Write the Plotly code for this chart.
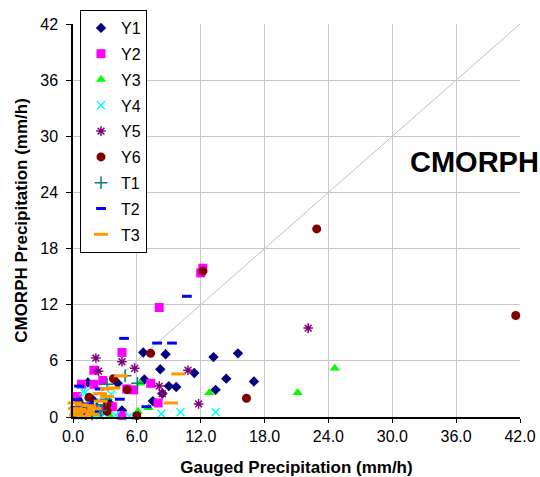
import plotly.graph_objects as go

# ---- data ----
y1_x = [0.2, 0.5, 0.9, 1.4, 1.8, 2.6, 3.4, 4.2, 4.6, 6.6, 6.7, 7.5, 8.2, 8.4, 8.7, 9.0, 9.7, 11.4, 13.2, 13.4, 14.4, 15.5, 17.0, 1.2, 2.2]
y1_y = [0.3, 0.6, 1.1, 3.7, 1.9, 0.4, 1.5, 3.6, 0.7, 6.9, 4.0, 1.7, 5.1, 2.5, 6.7, 3.3, 3.2, 4.7, 6.4, 2.9, 4.1, 6.8, 3.8, 0.2, 1.0]

y2_x = [12.2, 12.0, 8.1, 4.6, 1.96, 2.8, 1.96, 0.8, 5.05, 5.7, 7.3, 8.0, 3.7, 4.6, 2.5, 0.4, 1.4, 0.2]
y2_y = [15.9, 15.4, 11.7, 6.9, 5.0, 3.9, 3.5, 3.5, 3.0, 2.9, 3.6, 1.5, 1.1, 0.15, 0.8, 2.2, 0.4, 0.5]

y3_x = [6.3, 6.1, 7.1, 3.5, 12.8, 21.1, 24.6, 1.0, 2.0]
y3_y = [3.6, 0.6, 1.0, 0.1, 2.6, 2.6, 5.2, 0.1, 0.3]

y4_x = [0.95, 8.3, 10.1, 13.4, 5.3, 2.5, 3.6, 1.15, 0.3, 0.7, 1.8, 2.2, 3.0, 4.0, 1.4, 0.5]
y4_y = [2.75, 0.35, 0.5, 0.5, 0.07, 0.15, 2.4, 2.6, 0.5, 1.0, 0.3, 0.9, 0.4, 0.2, 1.6, 0.1]

y5_x = [2.15, 2.4, 4.6, 5.8, 10.8, 8.1, 8.4, 11.8, 22.1, 1.0, 0.5]
y5_y = [6.3, 4.9, 5.9, 5.2, 5.0, 3.3, 2.5, 1.4, 9.5, 0.9, 0.3]

y6_x = [12.2, 7.3, 3.8, 5.1, 1.5, 3.2, 3.2, 6.0, 16.3, 0.57, 22.9, 41.6, 0.2, 1.0]
y6_y = [15.6, 6.8, 4.1, 2.9, 2.1, 1.3, 0.6, 0.14, 2.0, 1.6, 20.1, 10.85, 0.3, 0.8]

t1_x = [4.9, 3.2, 2.3, 3.1, 6.06, 0.5, 1.2, 1.8, 0.8, 2.6]
t1_y = [4.4, 3.5, 1.3, 1.9, 3.6, 0.4, 0.8, 0.3, 1.2, 0.7]

t2_x = [10.7, 4.8, 7.9, 9.3, 0.57, 2.5, 4.4, 6.9, 0.4, 1.5, 0.8, 1.2, 2.0, 0.2]
t2_y = [12.9, 8.4, 7.9, 7.9, 3.3, 3.0, 1.9, 1.1, 1.85, 1.4, 0.6, 0.3, 0.5, 1.0]

t3_x = [9.9, 9.2, 4.5, 3.8, 2.5, 3.2, 3.2, 0.15, 0.6, 1.4, 0.3, 1.5, 0.8, 1.0, 2.0, 0.4, 1.8, 2.6, 0.2]
t3_y = [4.6, 1.5, 4.4, 3.1, 2.5, 3.0, 2.2, 1.5, 0.8, 0.6, 0.2, 1.2, 1.3, 0.1, 0.9, 0.5, 0.3, 1.7, 0.9]

tick_vals = [0, 6, 12, 18, 24, 30, 36, 42]
x_tick_labels = ["0.0", "6.0", "12.0", "18.0", "24.0", "30.0", "36.0", "42.0"]
y_tick_labels = ["0", "6", "12", "18", "24", "30", "36", "42"]

FONT = "Liberation Sans, Arial, sans-serif"

series = [
    ("Y1", y1_x, y1_y, dict(symbol="diamond", size=8, color="#000080")),
    ("Y2", y2_x, y2_y, dict(symbol="square", size=9, color="#FF00FF")),
    ("Y3", y3_x, y3_y, dict(symbol="triangle-up", size=9, color="#00FF00")),
    ("Y4", y4_x, y4_y, dict(symbol="x-thin-open", size=8, color="#00FFFF", line=dict(width=1.5, color="#00FFFF"))),
    ("Y5", y5_x, y5_y, dict(symbol="asterisk-open", size=8, color="#800080", line=dict(width=1.5, color="#800080"))),
    ("Y6", y6_x, y6_y, dict(symbol="circle", size=9, color="#800000")),
    ("T1", t1_x, t1_y, dict(symbol="cross-thin-open", size=9, color="#008080", line=dict(width=1.5, color="#008080"))),
    ("T2", t2_x, t2_y, dict(symbol="line-ew-open", size=7, color="#0000FF", line=dict(width=3, color="#0000FF"))),
    ("T3", t3_x, t3_y, dict(symbol="line-ew-open", size=10, color="#FF9900", line=dict(width=3, color="#FF9900"))),
]

fig = go.Figure()
for name, xs, ys, mk in series:
    fig.add_trace(go.Scatter(x=xs, y=ys, mode="markers", name=name, marker=mk,
                             legendgroup=name, cliponaxis=False))

fig.add_shape(type="line", x0=0, y0=0, x1=42, y1=42, xref="x", yref="y",
              line=dict(color="#C0C0C0", width=1), layer="below")

fig.add_annotation(x=31.5, y=27.3, xref="x", yref="y", text="<b>CMORPH</b>",
                   xanchor="left", yanchor="middle",
                   showarrow=False, font=dict(family=FONT, size=29, color="black"))

fig.update_layout(
    width=540, height=477,
    margin=dict(l=73, r=20, t=24, b=60, autoexpand=False),
    paper_bgcolor="white", plot_bgcolor="white",
    font=dict(family=FONT, size=15, color="black"),
    showlegend=True,
    legend=dict(x=7 / 447, y=1 + 14 / 393, xanchor="left", yanchor="top",
                bordercolor="black", borderwidth=1, bgcolor="white",
                font=dict(family=FONT, size=16, color="black"),
                tracegroupgap=2, traceorder="grouped", itemwidth=30),
    xaxis=dict(range=[0, 42], tickvals=tick_vals, ticktext=x_tick_labels,
               showgrid=True, gridcolor="#C8C8C8", gridwidth=1,
               showline=True, linecolor="black", linewidth=1.5,
               ticks="outside", ticklen=4, tickcolor="black", zeroline=False,
               automargin=False,
               title=dict(text="<b>Gauged Precipitation (mm/h)</b>", standoff=23,
                          font=dict(family=FONT, size=17)),
               tickfont=dict(family=FONT, size=16)),
    yaxis=dict(range=[0, 42], tickvals=tick_vals, ticktext=y_tick_labels,
               showgrid=True, gridcolor="#C8C8C8", gridwidth=1,
               showline=True, linecolor="black", linewidth=1.5,
               ticks="outside", ticklen=5, tickcolor="black", zeroline=False,
               automargin=False, ticklabelstandoff=5,
               title=dict(text="<b>CMORPH Precipitation (mm/h)</b>", standoff=8,
                          font=dict(family=FONT, size=17)),
               tickfont=dict(family=FONT, size=16)),
)
try:
    fig.update_layout(legend_maxheight=300)
except Exception:
    fig.update_layout(legend=dict(font=dict(size=14), tracegroupgap=1))

fig.write_html("out.html", post_script="document.body.style.margin='0';",
               config={"displayModeBar": False})
